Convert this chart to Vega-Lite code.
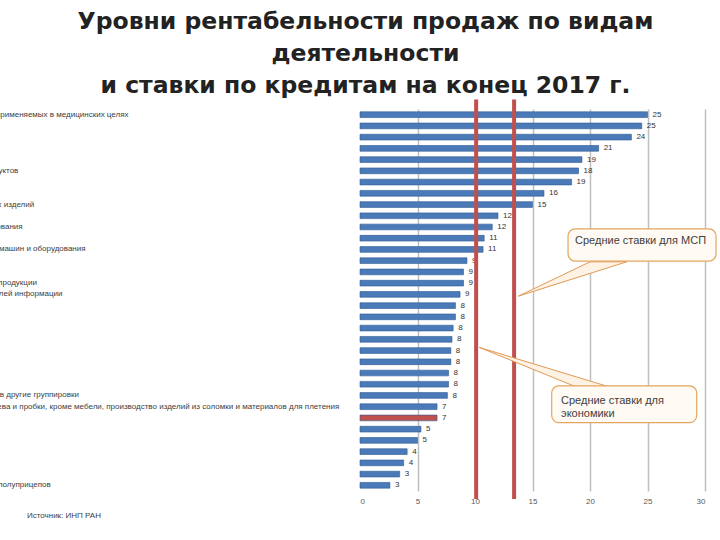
{
  "$schema": "https://vega.github.io/schema/vega-lite/v6.json",
  "width": 345,
  "height": 382,
  "autosize": {"type": "none"},
  "padding": {"left": 360, "top": 109, "right": 15, "bottom": 49},
  "background": "white",
  "title": {
    "text": ["Уровни рентабельности продаж по видам", "деятельности", "и ставки по кредитам на конец 2017 г."],
    "font": "DejaVu Sans",
    "fontSize": 23.5,
    "fontWeight": "bold",
    "color": "#222222",
    "anchor": "middle",
    "dx": -167,
    "offset": 0,
    "lineHeight": 32
  },
  "config": {"view": {"stroke": null}},
  "datasets": {
    "bars": [
      {"cat": "Производство лекарственных средств и материалов, применяемых в медицинских целях", "value": 25.0, "label": "25", "group": "вид"},
      {"cat": "Производство табачных изделий", "value": 24.5, "label": "25", "group": "вид"},
      {"cat": "Добыча полезных ископаемых", "value": 23.6, "label": "24", "group": "вид"},
      {"cat": "Производство кокса и нефтепродуктов", "value": 20.75, "label": "21", "group": "вид"},
      {"cat": "Металлургическое производство", "value": 19.3, "label": "19", "group": "вид"},
      {"cat": "Производство химических веществ и химических продуктов", "value": 19.0, "label": "18", "group": "вид"},
      {"cat": "Добыча металлических руд", "value": 18.4, "label": "19", "group": "вид"},
      {"cat": "Производство напитков", "value": 16.0, "label": "16", "group": "вид"},
      {"cat": "Производство компьютеров, электронных и оптических изделий", "value": 15.0, "label": "15", "group": "вид"},
      {"cat": "Производство бумаги и бумажных изделий", "value": 12.0, "label": "12", "group": "вид"},
      {"cat": "Производство прочих транспортных средств и оборудования", "value": 11.5, "label": "12", "group": "вид"},
      {"cat": "Производство электрического оборудования", "value": 10.8, "label": "11", "group": "вид"},
      {"cat": "Производство готовых металлических изделий, кроме машин и оборудования", "value": 10.7, "label": "11", "group": "вид"},
      {"cat": "Производство пищевых продуктов", "value": 9.3, "label": "9", "group": "вид"},
      {"cat": "Производство резиновых и пластмассовых изделий", "value": 9.0, "label": "9", "group": "вид"},
      {"cat": "Производство прочей неметаллической минеральной продукции", "value": 9.0, "label": "9", "group": "вид"},
      {"cat": "Деятельность полиграфическая и копирование носителей информации", "value": 8.7, "label": "9", "group": "вид"},
      {"cat": "Производство мебели", "value": 8.3, "label": "8", "group": "вид"},
      {"cat": "Производство прочих готовых изделий", "value": 8.3, "label": "8", "group": "вид"},
      {"cat": "Сельское хозяйство", "value": 8.1, "label": "8", "group": "вид"},
      {"cat": "Строительство", "value": 8.0, "label": "8", "group": "вид"},
      {"cat": "Торговля оптовая и розничная", "value": 7.9, "label": "8", "group": "вид"},
      {"cat": "Производство текстильных изделий", "value": 7.9, "label": "8", "group": "вид"},
      {"cat": "Транспортировка и хранение", "value": 7.7, "label": "8", "group": "вид"},
      {"cat": "Производство кожи и изделий из кожи", "value": 7.7, "label": "8", "group": "вид"},
      {"cat": "Производство машин и оборудования, не включенных в другие группировки", "value": 7.6, "label": "8", "group": "вид"},
      {"cat": "Обработка древесины и производство изделий из дерева и пробки, кроме мебели, производство изделий из соломки и материалов для плетения", "value": 6.7, "label": "7", "group": "вид"},
      {"cat": "Обрабатывающие производства", "value": 6.7, "label": "7", "group": "итого"},
      {"cat": "Производство одежды", "value": 5.3, "label": "5", "group": "вид"},
      {"cat": "Ремонт и монтаж машин и оборудования", "value": 5.0, "label": "5", "group": "вид"},
      {"cat": "Деятельность гостиниц и общественного питания", "value": 4.1, "label": "4", "group": "вид"},
      {"cat": "Операции с недвижимым имуществом", "value": 3.8, "label": "4", "group": "вид"},
      {"cat": "Рыболовство и рыбоводство", "value": 3.45, "label": "3", "group": "вид"},
      {"cat": "Производство автотранспортных средств, прицепов и полуприцепов", "value": 2.6, "label": "3", "group": "вид"}
    ],
    "rates": [
      {"name": "Средние ставки для экономики", "rate": 10.1, "y0": -0.021, "y1": 1.025},
      {"name": "Средние ставки для МСП", "rate": 13.4, "y0": -0.021, "y1": 1.025}
    ],
    "pointers": [
      {"id": "МСП", "px": 13.77, "py": 0.51, "py2": 0.51},
      {"id": "МСП", "px": 20.0, "py": 0.6, "py2": 0.5695},
      {"id": "МСП", "px": 23.19, "py": 0.6, "py2": 0.6},
      {"id": "экономика", "px": 10.37, "py": 0.376, "py2": 0.376},
      {"id": "экономика", "px": 18.84, "py": 0.2985, "py2": 0.272},
      {"id": "экономика", "px": 21.74, "py": 0.272, "py2": 0.272}
    ],
    "boxes": [
      {"id": "МСП", "x1": 18.09, "x2": 30.96, "y1": 0.686, "y2": 0.602},
      {"id": "экономика", "x1": 16.67, "x2": 29.28, "y1": 0.275, "y2": 0.179}
    ],
    "notes": [
      {"text": "Средние ставки для МСП", "nx": 18.7, "ny": 0.655, "size": 11},
      {"text": "Средние ставки для", "nx": 17.48, "ny": 0.236, "size": 11},
      {"text": "экономики", "nx": 17.48, "ny": 0.202, "size": 11},
      {"text": "Источник: ИНП РАН", "nx": -28.96, "ny": -0.065, "size": 8}
    ]
  },
  "layer": [
    {
      "data": {"name": "bars"},
      "mark": {"type": "bar", "stroke": "#2f5a92", "strokeWidth": 0.6},
      "encoding": {
        "y": {
          "field": "cat", "type": "nominal", "sort": null,
          "scale": {"paddingInner": 0.49, "paddingOuter": 0.25},
          "axis": {
            "title": null, "ticks": false, "domain": false,
            "labelAlign": "left", "labelPadding": 565, "labelLimit": 2000,
            "labelOverlap": false, "labelFont": "Liberation Sans", "labelFontSize": 8,
            "labelColor": "#404040"
          }
        },
        "x": {
          "field": "value", "type": "quantitative",
          "scale": {"domain": [0, 30], "nice": false},
          "axis": {
            "title": null, "values": [0, 5, 10, 15, 20, 25, 30], "ticks": false, "domain": false,
            "grid": true,
            "gridColor": {"condition": {"test": "datum.value === 0", "value": "transparent"}, "value": "#c0c0c0"},
            "gridWidth": 1.5,
            "labelFont": "Liberation Sans", "labelFontSize": 8, "labelColor": "#595959", "labelPadding": 6
          }
        },
        "color": {
          "field": "group", "type": "nominal", "legend": null,
          "scale": {"domain": ["вид", "итого"], "range": ["#4a7ab8", "#c0504d"]}
        }
      }
    },
    {
      "data": {"name": "bars"},
      "mark": {"type": "text", "align": "left", "baseline": "middle", "dx": 5, "font": "Liberation Sans", "fontSize": 8, "color": "#333333"},
      "encoding": {
        "y": {"field": "cat", "type": "nominal", "sort": null, "scale": {"paddingInner": 0.49, "paddingOuter": 0.25}, "axis": null},
        "x": {"field": "value", "type": "quantitative", "title": null},
        "text": {"field": "label"}
      }
    },
    {
      "data": {"name": "rates"},
      "mark": {"type": "rule", "color": "#c0504d", "strokeWidth": 4},
      "encoding": {
        "x": {"field": "rate", "type": "quantitative", "title": null},
        "y": {"field": "y0", "type": "quantitative", "scale": {"domain": [0, 1], "nice": false, "zero": false}, "axis": null},
        "y2": {"field": "y1"}
      }
    },
    {
      "data": {"name": "pointers"},
      "mark": {"type": "area", "fill": "#fdf2e4", "stroke": "#e09a55", "strokeWidth": 1, "orient": "vertical"},
      "encoding": {
        "x": {"field": "px", "type": "quantitative", "title": null},
        "y": {"field": "py", "type": "quantitative", "scale": {"domain": [0, 1], "nice": false, "zero": false}, "axis": null},
        "y2": {"field": "py2"},
        "detail": {"field": "id", "type": "nominal"}
      }
    },
    {
      "data": {"name": "boxes"},
      "mark": {"type": "rect", "fill": "#fffaf3", "stroke": "#e3a660", "strokeWidth": 1.2, "cornerRadius": 7},
      "encoding": {
        "x": {"field": "x1", "type": "quantitative", "title": null},
        "x2": {"field": "x2"},
        "y": {"field": "y1", "type": "quantitative", "scale": {"domain": [0, 1], "nice": false, "zero": false}, "axis": null},
        "y2": {"field": "y2"}
      }
    },
    {
      "data": {"name": "notes"},
      "mark": {"type": "text", "align": "left", "baseline": "middle", "font": "Liberation Sans", "color": "#404040"},
      "encoding": {
        "x": {"field": "nx", "type": "quantitative", "title": null},
        "y": {"field": "ny", "type": "quantitative", "scale": {"domain": [0, 1], "nice": false, "zero": false}, "axis": null},
        "text": {"field": "text"},
        "size": {"field": "size", "type": "quantitative", "scale": null, "legend": null}
      }
    }
  ],
  "resolve": {"scale": {"y": "independent"}}
}
